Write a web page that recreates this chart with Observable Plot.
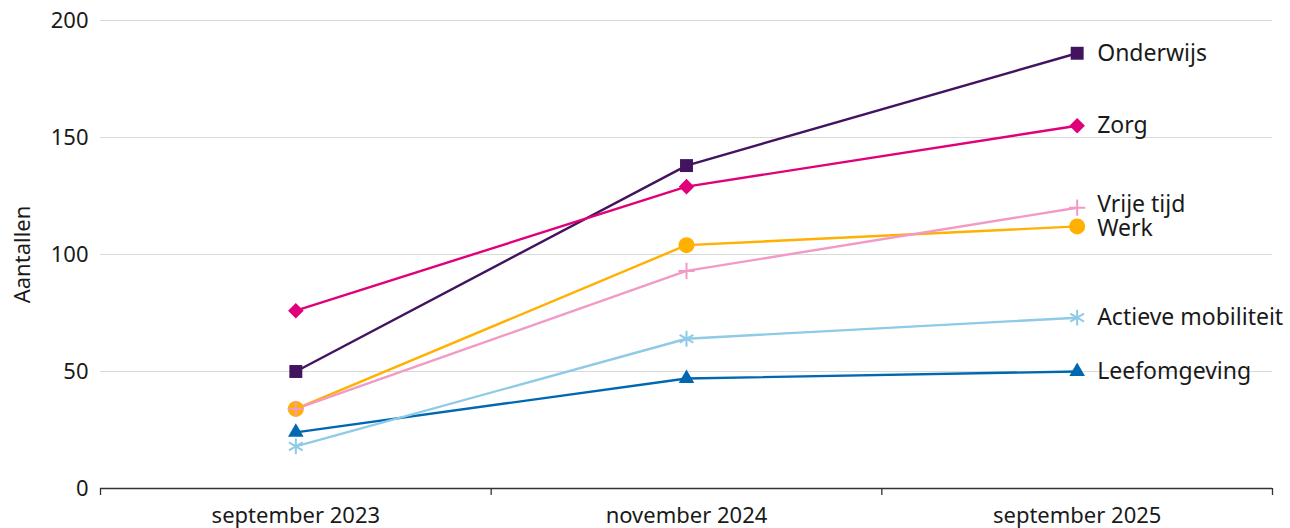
<!DOCTYPE html>
<html>
<head>
<meta charset="utf-8">
<script src="https://cdn.jsdelivr.net/npm/d3@7"></script>
<script src="https://cdn.jsdelivr.net/npm/@observablehq/plot@0.6"></script>
<style>
  html, body { margin: 0; padding: 0; background: #fff; }
  #chart svg { overflow: visible; }
</style>
</head>
<body>
<div id="chart"></div>
<script>
const categories = ["september 2023", "november 2024", "september 2025"];
const seriesNames = ["Onderwijs", "Zorg", "Vrije tijd", "Werk", "Actieve mobiliteit", "Leefomgeving"];
const onderwijs = [50, 138, 186];
const zorg = [76, 129, 155];
const vrijeTijd = [34, 93, 120];
const werk = [34, 104, 112];
const actieveMobiliteit = [18, 64, 73];
const leefomgeving = [24, 47, 50];
const yTicks = [0, 50, 100, 150, 200];

const seriesValues = [onderwijs, zorg, vrijeTijd, werk, actieveMobiliteit, leefomgeving];
const colors = ["#42145f", "#e0007a", "#f29ac6", "#ffb000", "#8fcae7", "#0068b0"];
const symbols = ["square", "diamond2", "plus", "circle", "asterisk", "triangle"];
const radii = [7.3, 7, 5.3, 8, 7.5, 5.8];
const labelShift = [0, 0, -3, 2, 0, 0];
const drawOrder = [0, 1, 3, 2, 5, 4];

const data = [];
seriesNames.forEach((name, s) => {
  seriesValues[s].forEach((v, i) => data.push({series: name, s, i, x: i + 0.5, cat: categories[i], value: v}));
});

const font = "'Noto Sans', sans-serif";
const marks = [
  Plot.gridY(yTicks, {stroke: "#d9d9d9", strokeOpacity: 1, strokeWidth: 1}),
  Plot.axisY(yTicks, {tickSize: 0, tickPadding: 12, fontSize: 22, fill: "#1a1a1a", label: "Aantallen", labelAnchor: "center", labelArrow: "none", labelOffset: 86}),
  Plot.ruleY([0], {stroke: "#333", strokeWidth: 1.3}),
  Plot.axisX(d3.range(categories.length + 1), {tickSize: 7, tickFormat: () => "", stroke: "#333", strokeWidth: 1.3, label: null}),
  Plot.axisX(categories.map((c, i) => i + 0.5), {tickSize: 0, tickPadding: 19, fontSize: 22, fill: "#1a1a1a", tickFormat: d => categories[d - 0.5], label: null})
];
drawOrder.forEach(s => {
  const d = data.filter(r => r.s === s);
  marks.push(Plot.line(d, {x: "x", y: "value", stroke: colors[s], strokeWidth: 2.4}));
});
drawOrder.forEach(s => {
  const d = data.filter(r => r.s === s);
  const open = symbols[s] === "plus" || symbols[s] === "asterisk";
  marks.push(Plot.dot(d, {x: "x", y: "value", symbol: () => symbols[s], r: radii[s], fill: open ? "none" : colors[s], stroke: colors[s], strokeWidth: open ? 2 : 0}));
});
seriesNames.forEach((name, s) => {
  const last = data.filter(r => r.s === s && r.i === categories.length - 1);
  marks.push(Plot.text(last, {x: "x", y: "value", text: "series", textAnchor: "start", dx: 20, dy: labelShift[s], fontSize: 23, fill: "#1a1a1a"}));
});

const chart = Plot.plot({
  width: 1290,
  height: 528,
  marginLeft: 100,
  marginRight: 18,
  marginTop: 20,
  marginBottom: 40,
  style: {fontFamily: font, background: "#fff", overflow: "visible"},
  x: {type: "linear", domain: [0, categories.length], axis: null},
  y: {domain: [0, 200], axis: null},
  marks
});
document.getElementById("chart").appendChild(chart);
</script>
</body>
</html>
